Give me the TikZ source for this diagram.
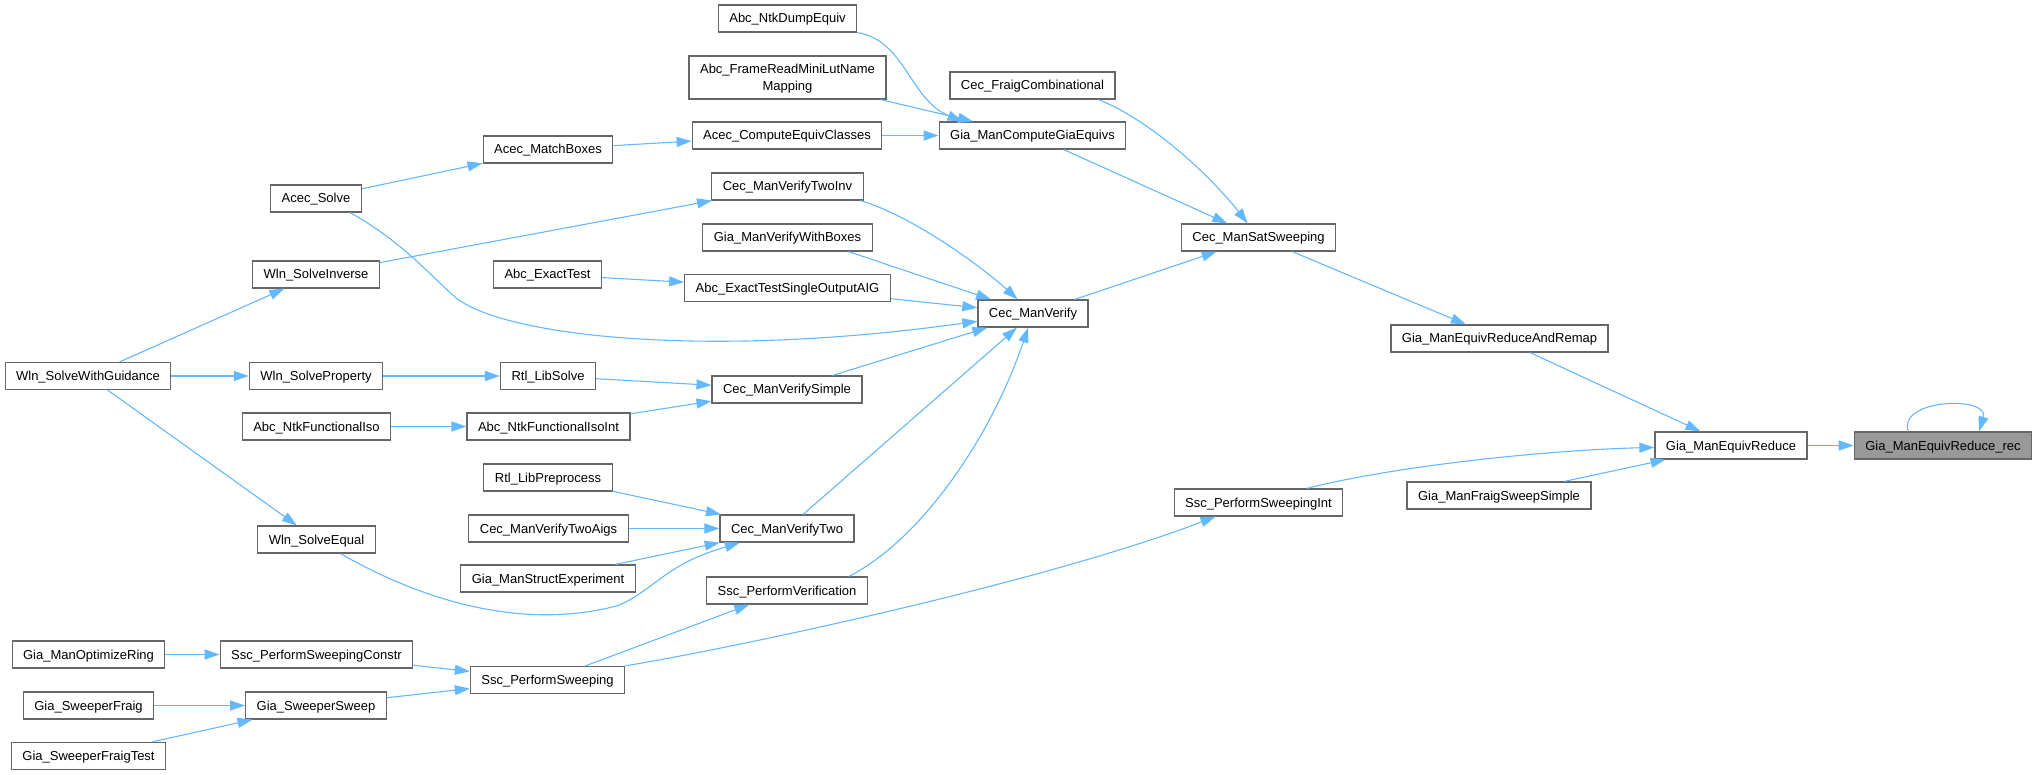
\documentclass[tikz,border=0pt]{standalone}
\usepackage{fontspec}
\setmainfont{Liberation Sans}
\usetikzlibrary{arrows.meta, positioning}
\definecolor{boxline}{HTML}{666666}
\definecolor{curfill}{HTML}{999999}
\definecolor{callblue}{HTML}{63B8FF}

\begin{document}
\begin{tikzpicture}[x=1pt, y=-1pt,
    every node/.style={rectangle, draw=boxline, fill=white, line width=1.2pt,
      font=\fontsize{13}{16.4}\selectfont, inner xsep=11pt, inner ysep=0pt,
      minimum height=27pt, text height=10.5pt, text depth=1.5pt},
    cur/.style={fill=curfill},
    call/.style={draw=callblue, line width=1.1pt, -{Triangle[length=15pt,width=10pt]}}]
  \useasboundingbox (0,0) rectangle (2037,775);

  \node (rec) [cur] at (1943,445.5) {Gia\_ManEquivReduce\_rec};
  \node (er) at (1731,445.5) {Gia\_ManEquivReduce};
  \node (remap) at (1499.5,338.5) {Gia\_ManEquivReduceAndRemap};
  \node (fss) at (1499,495.5) {Gia\_ManFraigSweepSimple};
  \node (sat) at (1258.5,237.5) {Cec\_ManSatSweeping};
  \node (spsint) at (1258.5,502.5) {Ssc\_PerformSweepingInt};
  \node (gcge) at (1032.5,135.5) {Gia\_ManComputeGiaEquivs};
  \node (fcomb) at (1032.5,85.5) {Cec\_FraigCombinational};
  \node (verify) at (1033,313.5) {Cec\_ManVerify};
  \node (dump) at (787.5,18.5) {Abc\_NtkDumpEquiv};
  \node (frame) [align=center, minimum height=43pt, text height=26.9pt] at (787.5,77.5) {Abc\_FrameReadMiniLutName\\Mapping};
  \node (ceq) at (787,135.5) {Acec\_ComputeEquivClasses};
  \node (twoinv) at (787.5,186.5) {Cec\_ManVerifyTwoInv};
  \node (wbox) at (787.5,237.5) {Gia\_ManVerifyWithBoxes};
  \node (single) at (787.5,288) {Abc\_ExactTestSingleOutputAIG};
  \node (simple) at (787,389.5) {Cec\_ManVerifySimple};
  \node (two) at (787,528.5) {Cec\_ManVerifyTwo};
  \node (sver) at (787,590.5) {Ssc\_PerformVerification};
  \node (mbox) at (548,149.5) {Acec\_MatchBoxes};
  \node (etest) at (547.5,274.5) {Abc\_ExactTest};
  \node (rsolve) at (548,376) {Rtl\_LibSolve};
  \node (isoint) at (548.5,426.5) {Abc\_NtkFunctionalIsoInt};
  \node (prep) at (548,477.5) {Rtl\_LibPreprocess};
  \node (aigs) at (548.5,528.5) {Cec\_ManVerifyTwoAigs};
  \node (struct) at (548,578.5) {Gia\_ManStructExperiment};
  \node (sweep) at (547.5,680) {Ssc\_PerformSweeping};
  \node (asolve) at (316,198.5) {Acec\_Solve};
  \node (winv) at (316,274.5) {Wln\_SolveInverse};
  \node (wprop) at (316,376) {Wln\_SolveProperty};
  \node (iso) at (316.5,426.5) {Abc\_NtkFunctionalIso};
  \node (wequal) at (316.5,539.5) {Wln\_SolveEqual};
  \node (constr) at (316.5,654.5) {Ssc\_PerformSweepingConstr};
  \node (ssweep) at (316,705.5) {Gia\_SweeperSweep};
  \node (guide) at (88,376) {Wln\_SolveWithGuidance};
  \node (ring) at (88.5,654.5) {Gia\_ManOptimizeRing};
  \node (fraig) at (88.5,705.5) {Gia\_SweeperFraig};
  \node (ftest) at (88.5,756) {Gia\_SweeperFraigTest};

  \draw[call] (er) -- (rec);
  \draw[call] ([xshift=-35pt]rec.north) .. controls (1898,398) and (1990,396) .. ([xshift=36pt]rec.north);
  \draw[call] (remap) -- (er);
  \draw[call] ([xshift=48pt]spsint.north) .. controls (1400,465) and (1550,450) .. (er);
  \draw[call] (fss) -- (er);
  \draw[call] (sat) -- (remap);
  \draw[call] (gcge) -- (sat);
  \draw[call] ([xshift=66pt]fcomb.south) .. controls (1150,120) and (1210,175) .. (sat);
  \draw[call] (verify) -- (sat);
  \draw[call] (dump.south east) .. controls (905,40) and (910,100) .. ([xshift=-70pt]gcge.north);
  \draw[call] (frame) -- (gcge);
  \draw[call] (ceq) -- (gcge);
  \draw[call] (mbox) -- (ceq);
  \draw[call] (asolve) -- (mbox);
  \draw[call] ([xshift=34pt]asolve.south) .. controls (400,240) and (430,275) .. (455,297)
    .. controls (500,335) and (700,360) .. (verify);
  \draw[call] (winv) -- (twoinv);
  \draw[call] ([xshift=73pt]twoinv.south) .. controls (910,215) and (980,265) .. (verify);
  \draw[call] ([xshift=61pt]wbox.south) -- (verify);
  \draw[call] (etest) -- (single);
  \draw[call] (single) -- (verify);
  \draw[call] (simple) -- (verify);
  \draw[call] (two) -- (verify);
  \draw[call] ([xshift=62pt]sver.north) .. controls (920,540) and (990,440) .. (verify);
  \draw[call] (guide) -- (winv);
  \draw[call] (guide) -- (wprop);
  \draw[call] (guide) -- (wequal);
  \draw[call] (wprop) -- (rsolve);
  \draw[call] (rsolve) -- (simple);
  \draw[call] (iso) -- (isoint);
  \draw[call] (isoint) -- (simple);
  \draw[call] (prep) -- (two);
  \draw[call] (aigs) -- (two);
  \draw[call] (struct) -- (two);
  \draw[call] ([xshift=24pt]wequal.south) .. controls (430,605) and (530,630) .. (620,605)
    .. controls (660,585) and (665,565) .. (two);
  \draw[call] (sweep) -- (sver);
  \draw[call] (sweep.north east) .. controls (750,645) and (1050,580) .. ([xshift=-43pt]spsint.south);
  \draw[call] (constr) -- (sweep);
  \draw[call] (ssweep) -- (sweep);
  \draw[call] (ring) -- (constr);
  \draw[call] (fraig) -- (ssweep);
  \draw[call] (ftest) -- (ssweep);
\end{tikzpicture}
\end{document}
